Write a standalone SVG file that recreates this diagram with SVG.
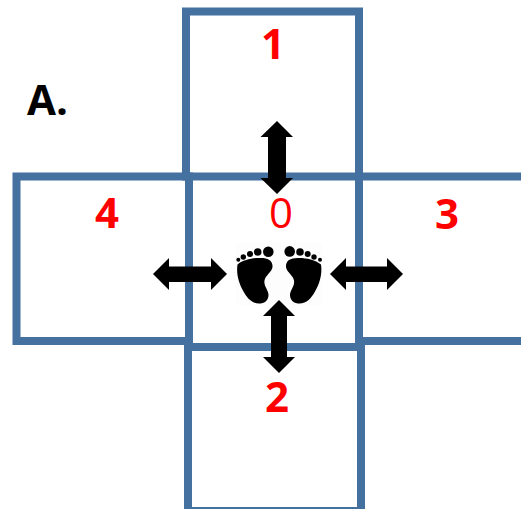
<svg xmlns="http://www.w3.org/2000/svg" width="521" height="509" viewBox="0 0 521 509">
<style>
.box{fill:none;stroke:#44719f;stroke-width:8}
.n{font-family:"Open Sans","Liberation Sans",sans-serif;font-size:42px;font-weight:700;fill:#ff0000;text-anchor:middle}
.a{fill:#000}
</style>
<rect width="521" height="509" fill="#fff"/>
<g id="node-1"><rect class="box" x="186" y="11.5" width="173" height="165"/><text class="n" x="273" y="59">1</text></g>
<g id="node-4"><rect class="box" x="16.500" y="176.500" width="172.500" height="164.500"/><text class="n" x="107" y="228">4</text></g>
<g id="node-3"><rect class="box" x="359" y="176.500" width="180" height="164.500"/><text class="n" x="447" y="229">3</text></g>
<g id="node-2"><rect class="box" x="188" y="347" width="173" height="164"/><text class="n" x="277" y="412">2</text></g>
<g id="node-0"><path d="M189 176.500V339M359 176.500V341" class="box"/><rect x="193" y="341.500" width="162" height="1" fill="#fff" opacity=".8"/><text class="n" x="281" y="228" style="font-weight:400">0</text></g>
<g id="feet">
<rect x="236" y="243" width="86" height="62" fill="#fdfdfd"/>
<g id="foot-l"><path d="M237.500 264.500C243 260 252 258 259 258C267 257.500 273 260 272.500 267C272 272 265.500 275 264.500 280.500C263.500 286 268.500 290 268.500 295C268.500 301 264 303.500 259 303.500C252 303.500 247 298 243.500 291.500C239 284 236 274 237.500 264.500Z"/><circle cx="268.300" cy="251.700" r="5.300"/><circle cx="257.700" cy="252" r="3.800"/><circle cx="250" cy="254" r="3"/><circle cx="243.300" cy="257" r="2.700"/><circle cx="238.300" cy="259.700" r="2"/></g>
<g id="foot-r"><path d="M321 264.500C315.500 260 306.500 258 299.500 258C291.500 257.500 285.500 260 286 267C286.500 272 293 275 294 280.500C295 286 290 290 290 295C290 301 294.500 303.500 299.500 303.500C306.500 303.500 311.500 298 315 291.500C319.500 284 322.500 274 321 264.500Z"/><circle cx="289.700" cy="251.400" r="5.300"/><circle cx="300" cy="252" r="3.800"/><circle cx="307.700" cy="254" r="3"/><circle cx="314" cy="257" r="2.700"/><circle cx="320" cy="259.700" r="2"/></g>
</g>
<g id="connectors">
<polygon class="a" points="277,121 293,137 286,137 286,178 293,178 277,194 260.500,178 268,178 268,137 260.500,137"/>
<polygon class="a" points="153,274 169,258 169,266.500 211,266.500 211,258 227,274 211,290 211,282 169,282 169,290"/>
<polygon class="a" points="330,274 346,258 346,266.500 387,266.500 387,258 403,274 387,290 387,282 346,282 346,290"/>
<polygon class="a" points="279,300 295,316 287,316 287,357 295,357 279,373 263,357 271,357 271,316 263,316"/>
</g>
<text x="27" y="115" style="font-family:'Open Sans','Liberation Sans',sans-serif;font-size:42px;font-weight:700;fill:#000">A.</text>
</svg>
